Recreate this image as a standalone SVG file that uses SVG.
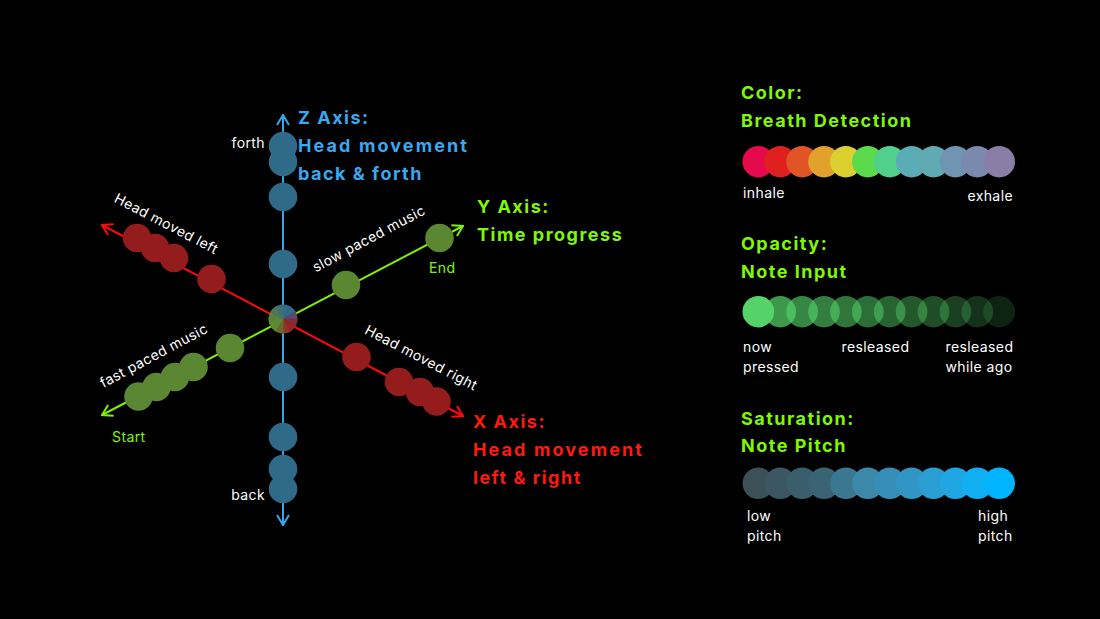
<svg xmlns="http://www.w3.org/2000/svg" width="1100" height="619" viewBox="0 0 1100 619">
  <style>
    text { font-family: Inter, "Noto Sans", "Liberation Sans", sans-serif; }
    .head { font-size: 18px; font-weight: 700; letter-spacing: 1.5px; }
    .wide { letter-spacing: 2.1px; }
    .lbl { font-size: 14px; fill: #ffffff; letter-spacing: 0.4px; }
    .lime { fill: #80f800; }
    .sky { fill: #3aa8f0; }
    .scarlet { fill: #ff1a10; }
    .zdot { fill: #306a89; }
    .xdot { fill: #951c1c; }
    .ydot { fill: #5b8632; }
    .axis { fill: none; stroke-width: 2; }
  </style>
  <defs>
    <marker id="chev-blue" viewBox="0 0 12 14" refX="11" refY="7" markerWidth="12" markerHeight="14" markerUnits="userSpaceOnUse" orient="auto-start-reverse">
      <path d="M1 1 L11 7 L1 13" fill="none" stroke="#3aa6e6" stroke-width="2"/>
    </marker>
    <marker id="chev-red" viewBox="0 0 12 14" refX="11" refY="7" markerWidth="12" markerHeight="14" markerUnits="userSpaceOnUse" orient="auto-start-reverse">
      <path d="M1 1 L11 7 L1 13" fill="none" stroke="#ff0a0a" stroke-width="2"/>
    </marker>
    <marker id="chev-green" viewBox="0 0 12 14" refX="11" refY="7" markerWidth="12" markerHeight="14" markerUnits="userSpaceOnUse" orient="auto-start-reverse">
      <path d="M1 1 L11 7 L1 13" fill="none" stroke="#80f000" stroke-width="2"/>
    </marker>
  </defs>

  <rect width="1100" height="619" fill="#000000"/>

  <!-- axes -->
  <g id="connectors">
    <line class="axis" x1="283" y1="115" x2="283" y2="525" stroke="#3aa6e6" marker-start="url(#chev-blue)" marker-end="url(#chev-blue)"/>
    <line class="axis" x1="102" y1="225" x2="463" y2="416" stroke="#ff0a0a" marker-start="url(#chev-red)" marker-end="url(#chev-red)"/>
    <line class="axis" x1="102" y1="415" x2="463" y2="226" stroke="#80f000" marker-start="url(#chev-green)" marker-end="url(#chev-green)"/>
  </g>

  <!-- Z axis samples -->
  <g id="z-samples">
    <circle class="zdot" cx="283" cy="146" r="14.3"/>
    <circle class="zdot" cx="283" cy="162" r="14.3"/>
    <circle class="zdot" cx="283" cy="197" r="14.3"/>
    <circle class="zdot" cx="283" cy="264" r="14.3"/>
    <circle class="zdot" cx="283" cy="377" r="14.3"/>
    <circle class="zdot" cx="283" cy="437" r="14.3"/>
    <circle class="zdot" cx="283" cy="469" r="14.3"/>
    <circle class="zdot" cx="283" cy="489" r="14.3"/>
  </g>

  <!-- X axis samples -->
  <g id="x-samples">
    <circle class="xdot" cx="137" cy="238" r="14.3"/>
    <circle class="xdot" cx="155" cy="248" r="14.3"/>
    <circle class="xdot" cx="174" cy="258" r="14.3"/>
    <circle class="xdot" cx="211.5" cy="279" r="14.3"/>
    <circle class="xdot" cx="356.5" cy="357" r="14.3"/>
    <circle class="xdot" cx="399" cy="382" r="14.3"/>
    <circle class="xdot" cx="420" cy="392" r="14.3"/>
    <circle class="xdot" cx="436.5" cy="401.5" r="14.3"/>
  </g>

  <!-- Y axis samples -->
  <g id="y-samples">
    <circle class="ydot" cx="439.5" cy="238" r="14.3"/>
    <circle class="ydot" cx="346" cy="285" r="14.3"/>
    <circle class="ydot" cx="230" cy="348" r="14.3"/>
    <circle class="ydot" cx="193.5" cy="367" r="14.3"/>
    <circle class="ydot" cx="175" cy="377" r="14.3"/>
    <circle class="ydot" cx="156.5" cy="387" r="14.3"/>
    <circle class="ydot" cx="138.5" cy="396.5" r="14.3"/>
  </g>

  <!-- origin: blended colour wheel -->
  <g id="origin" stroke-width="0.6">
    <path d="M283 319 L283 304.7 A14.3 14.3 0 0 1 290.15 306.62 Z" fill="#356c88" stroke="#356c88"/>
    <path d="M283 319 L290.15 306.62 A14.3 14.3 0 0 1 295.38 311.85 Z" fill="#336a8a" stroke="#336a8a"/>
    <path d="M283 319 L295.38 311.85 A14.3 14.3 0 0 1 297.3 319 Z" fill="#584a6a" stroke="#584a6a"/>
    <path d="M283 319 L297.3 319 A14.3 14.3 0 0 1 295.38 326.15 Z" fill="#852c3c" stroke="#852c3c"/>
    <path d="M283 319 L295.38 326.15 A14.3 14.3 0 0 1 290.15 331.38 Z" fill="#982424" stroke="#982424"/>
    <path d="M283 319 L290.15 331.38 A14.3 14.3 0 0 1 283 333.3 Z" fill="#8a3a28" stroke="#8a3a28"/>
    <path d="M283 319 L283 333.3 A14.3 14.3 0 0 1 275.85 331.38 Z" fill="#6c682c" stroke="#6c682c"/>
    <path d="M283 319 L275.85 331.38 A14.3 14.3 0 0 1 270.62 326.15 Z" fill="#5b8832" stroke="#5b8832"/>
    <path d="M283 319 L270.62 326.15 A14.3 14.3 0 0 1 268.7 319 Z" fill="#5a8836" stroke="#5a8836"/>
    <path d="M283 319 L268.7 319 A14.3 14.3 0 0 1 270.62 311.85 Z" fill="#5a8040" stroke="#5a8040"/>
    <path d="M283 319 L270.62 311.85 A14.3 14.3 0 0 1 275.85 306.62 Z" fill="#507858" stroke="#507858"/>
    <path d="M283 319 L275.85 306.62 A14.3 14.3 0 0 1 283 304.7 Z" fill="#42707a" stroke="#42707a"/>
  </g>

  <!-- axis labels -->
  <g id="z-label">
    <text class="head sky" x="298" y="124">Z Axis:</text>
    <text class="head wide sky" x="298" y="152">Head movement</text>
    <text class="head sky" x="298" y="180">back &amp; forth</text>
    <text class="lbl" x="265" y="148" text-anchor="end">forth</text>
    <text class="lbl" x="265" y="500" text-anchor="end">back</text>
  </g>
  <g id="y-label">
    <text class="head lime" x="477" y="213">Y Axis:</text>
    <text class="head lime" x="477" y="241">Time progress</text>
    <text class="lbl" x="429" y="273" style="fill:#80f800">End</text>
    <text class="lbl" x="112" y="442" style="fill:#80f800">Start</text>
    <text class="lbl" x="371" y="243" text-anchor="middle" transform="rotate(-28 371 243)">slow paced music</text>
    <text class="lbl" x="156" y="360" text-anchor="middle" transform="rotate(-28 156 360)">fast paced music</text>
  </g>
  <g id="x-label">
    <text class="head scarlet" x="473" y="428">X Axis:</text>
    <text class="head wide scarlet" x="473" y="456">Head movement</text>
    <text class="head scarlet" x="473" y="484">left &amp; right</text>
    <text class="lbl" x="164" y="228" text-anchor="middle" transform="rotate(27.5 164 228)">Head moved left</text>
    <text class="lbl" x="419" y="362" text-anchor="middle" transform="rotate(27.5 419 362)">Head moved right</text>
  </g>

  <!-- legend: colour = breath -->
  <g id="legend-color">
    <text class="head lime" x="741" y="99">Color:</text>
    <text class="head lime" x="741" y="127">Breath Detection</text>
    <circle cx="758.3" cy="161.7" r="15.8" fill="#e6094c"/>
    <circle cx="780.2" cy="161.7" r="15.8" fill="#e0201e"/>
    <circle cx="802.1" cy="161.7" r="15.8" fill="#e05426"/>
    <circle cx="824" cy="161.7" r="15.8" fill="#e1a12a"/>
    <circle cx="845.9" cy="161.7" r="15.8" fill="#dccf30"/>
    <circle cx="867.8" cy="161.7" r="15.8" fill="#5cda4e"/>
    <circle cx="889.7" cy="161.7" r="15.8" fill="#50d08a"/>
    <circle cx="911.6" cy="161.7" r="15.8" fill="#5aacb6"/>
    <circle cx="933.5" cy="161.7" r="15.8" fill="#60aab2"/>
    <circle cx="955.4" cy="161.7" r="15.8" fill="#7095b2"/>
    <circle cx="977.3" cy="161.7" r="15.8" fill="#7a8aae"/>
    <circle cx="999.2" cy="161.7" r="15.8" fill="#8a7ea6"/>
    <text class="lbl" x="743" y="198">inhale</text>
    <text class="lbl" x="1013" y="201" text-anchor="end">exhale</text>
  </g>

  <!-- legend: opacity = note input -->
  <g id="legend-opacity" fill="#55d26a">
    <text class="head lime" x="741" y="250">Opacity:</text>
    <text class="head lime" x="741" y="278">Note Input</text>
    <circle cx="758.3" cy="311.7" r="15.8"/>
    <circle cx="780.2" cy="311.7" r="15.8" fill-opacity="0.72"/>
    <circle cx="802.1" cy="311.7" r="15.8" fill-opacity="0.64"/>
    <circle cx="824" cy="311.7" r="15.8" fill-opacity="0.6"/>
    <circle cx="845.9" cy="311.7" r="15.8" fill-opacity="0.56"/>
    <circle cx="867.8" cy="311.7" r="15.8" fill-opacity="0.52"/>
    <circle cx="889.7" cy="311.7" r="15.8" fill-opacity="0.47"/>
    <circle cx="911.6" cy="311.7" r="15.8" fill-opacity="0.42"/>
    <circle cx="933.5" cy="311.7" r="15.8" fill-opacity="0.37"/>
    <circle cx="955.4" cy="311.7" r="15.8" fill-opacity="0.3"/>
    <circle cx="977.3" cy="311.7" r="15.8" fill-opacity="0.23"/>
    <circle cx="999.2" cy="311.7" r="15.8" fill-opacity="0.17"/>
    <text class="lbl" x="743" y="352">now</text>
    <text class="lbl" x="743" y="372">pressed</text>
    <text class="lbl" x="841.5" y="352">resleased</text>
    <text class="lbl" x="945.5" y="352">resleased</text>
    <text class="lbl" x="945.5" y="372">while ago</text>
  </g>

  <!-- legend: saturation = pitch -->
  <g id="legend-saturation">
    <text class="head lime" x="741" y="425">Saturation:</text>
    <text class="head lime" x="741" y="452">Note Pitch</text>
    <circle cx="758.3" cy="483.3" r="15.8" fill="#3c5058"/>
    <circle cx="780.2" cy="483.3" r="15.8" fill="#3c5664"/>
    <circle cx="802.1" cy="483.3" r="15.8" fill="#3a5e6c"/>
    <circle cx="824" cy="483.3" r="15.8" fill="#3a6474"/>
    <circle cx="845.9" cy="483.3" r="15.8" fill="#3a7890"/>
    <circle cx="867.8" cy="483.3" r="15.8" fill="#3c88a8"/>
    <circle cx="889.7" cy="483.3" r="15.8" fill="#368eb8"/>
    <circle cx="911.6" cy="483.3" r="15.8" fill="#3296c4"/>
    <circle cx="933.5" cy="483.3" r="15.8" fill="#2a9ed2"/>
    <circle cx="955.4" cy="483.3" r="15.8" fill="#20a6e2"/>
    <circle cx="977.3" cy="483.3" r="15.8" fill="#12aef2"/>
    <circle cx="999.2" cy="483.3" r="15.8" fill="#00b4ff"/>
    <text class="lbl" x="747" y="521">low</text>
    <text class="lbl" x="747" y="541">pitch</text>
    <text class="lbl" x="978" y="521">high</text>
    <text class="lbl" x="978" y="541">pitch</text>
  </g>
</svg>
